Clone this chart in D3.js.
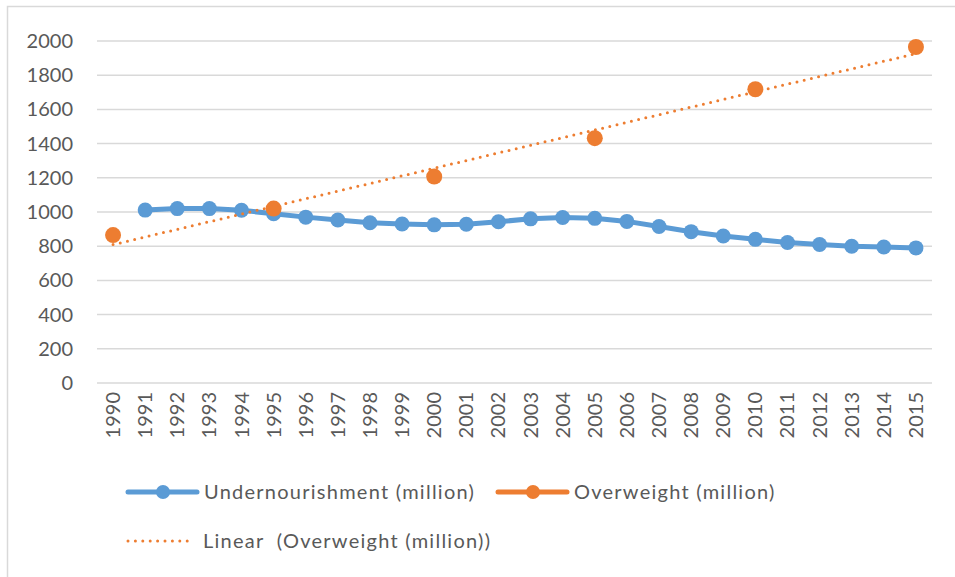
<!doctype html>
<html lang="en">
<head>
<meta charset="utf-8">
<title>Undernourishment vs Overweight</title>
<script src="https://d3js.org/d3.v7.min.js"></script>
<style>
  body { margin: 0; background: #fff; }
  svg text { font-family: Lato, "Open Sans", sans-serif; fill: #595959; }
  .legend text { letter-spacing: 1.25px; white-space: pre; }
</style>
</head>
<body>
<svg id="chart" width="955" height="577"></svg>
<script>
// data
var years = ["1990","1991","1992","1993","1994","1995","1996","1997","1998","1999","2000","2001","2002",
             "2003","2004","2005","2006","2007","2008","2009","2010","2011","2012","2013","2014","2015"];
var undernourishment = [null,1011,1020,1020,1010,990,970,953,937,930,925,928,943,
                        960,968,963,945,915,885,860,840,822,810,800,795,790];
var overweightYears = ["1990","1995","2000","2005","2010","2015"];
var overweight = [865,1020,1207,1432,1718,1965];
var yTicks = [0,200,400,600,800,1000,1200,1400,1600,1800,2000];

var blue = "#5B9BD5", orange = "#ED7D31", grid = "#d9d9d9";

var svg = d3.select("#chart");
var margin = {left: 97, right: 23, top: 41, bottom: 194};
var width = 955 - margin.left - margin.right,
    height = 577 - margin.top - margin.bottom;

// chart border
svg.append("rect")
   .attr("x", 7.5).attr("y", 6.5)
   .attr("width", 1000).attr("height", 1000)
   .attr("fill", "none").attr("stroke", grid).attr("stroke-width", 1.5);

var g = svg.append("g").attr("transform", "translate(" + margin.left + "," + margin.top + ")");

var x = d3.scaleBand().domain(years).range([0, width]);
var y = d3.scaleLinear().domain([0, 2000]).range([342, 0]);
var cx = function(yr) { return x(yr) + x.bandwidth() / 2; };

// gridlines
g.selectAll(".grid").data(yTicks).enter().append("line")
   .attr("x1", 0).attr("x2", width)
   .attr("y1", function(d) { return y(d); })
   .attr("y2", function(d) { return y(d); })
   .attr("stroke", grid).attr("stroke-width", 1.5);

// y labels
g.selectAll(".ylab").data(yTicks).enter().append("text")
   .attr("x", -24).attr("y", function(d) { return y(d); })
   .attr("dy", "0.35em").attr("text-anchor", "end")
   .style("font-size", "20px")
   .text(function(d) { return d; });

// x labels, rotated
g.selectAll(".xlab").data(years).enter().append("text")
   .attr("transform", function(d) { return "translate(" + cx(d) + "," + (y(0) + 9) + ") rotate(-90)"; })
   .attr("dy", "0.35em").attr("text-anchor", "end")
   .style("font-size", "20px")
   .text(function(d) { return d; });

// linear trendline (least squares on category index, like Excel)
var idx = overweightYears.map(function(d) { return years.indexOf(d) + 1; });
var mx = d3.mean(idx), my = d3.mean(overweight);
var sxy = d3.sum(idx, function(v, i) { return (v - mx) * (overweight[i] - my); });
var sxx = d3.sum(idx, function(v) { return (v - mx) * (v - mx); });
var slope = sxy / sxx, icpt = my - slope * mx;
var trend = [years[0], years[years.length - 1]].map(function(yr) {
   return {yr: yr, v: icpt + slope * (years.indexOf(yr) + 1)};
});

// blue line + markers
var line = d3.line()
   .defined(function(d) { return d.v != null; })
   .x(function(d) { return cx(d.yr); })
   .y(function(d) { return y(d.v); });
var uData = years.map(function(yr, i) { return {yr: yr, v: undernourishment[i]}; });
g.append("path").datum(uData)
   .attr("d", line).attr("fill", "none")
   .attr("stroke", blue).attr("stroke-width", 5)
   .attr("stroke-linejoin", "round").attr("stroke-linecap", "round");
g.selectAll(".um").data(uData.filter(function(d) { return d.v != null; })).enter().append("circle")
   .attr("cx", function(d) { return cx(d.yr); })
   .attr("cy", function(d) { return y(d.v); })
   .attr("r", 7.5).attr("fill", blue);

// overweight markers (gaps between them so no line)
g.selectAll(".om").data(overweightYears).enter().append("circle")
   .attr("cx", function(d) { return cx(d); })
   .attr("cy", function(d, i) { return y(overweight[i]); })
   .attr("r", 8).attr("fill", orange);

// trendline on top
g.append("path").datum(trend)
   .attr("d", line).attr("fill", "none")
   .attr("stroke", orange).attr("stroke-width", 3)
   .attr("stroke-dasharray", "0 7.4").attr("stroke-linecap", "round");

// legend
var leg = svg.append("g").attr("class", "legend");
function legendItem(x0, yy, color, label, dotted) {
   if (dotted) {
      leg.append("line").attr("x1", 128).attr("x2", 192).attr("y1", yy).attr("y2", yy)
         .attr("stroke", color).attr("stroke-width", 3)
         .attr("stroke-dasharray", "0 7.4").attr("stroke-linecap", "round");
   } else {
      leg.append("line").attr("x1", x0).attr("x2", x0 + 69).attr("y1", yy).attr("y2", yy)
         .attr("stroke", color).attr("stroke-width", 5).attr("stroke-linecap", "round");
      leg.append("circle").attr("cx", x0 + 35).attr("cy", yy).attr("r", 7).attr("fill", color);
   }
   leg.append("text").attr("x", dotted ? 203 : x0 + 76).attr("y", yy).attr("dy", "0.35em")
      .style("font-size", "20px").text(label);
}
legendItem(128, 492, blue, "Undernourishment (million)");
legendItem(498, 492, orange, "Overweight (million)");
legendItem(128, 541, orange, "Linear  (Overweight (million))", true);
</script>
</body>
</html>
